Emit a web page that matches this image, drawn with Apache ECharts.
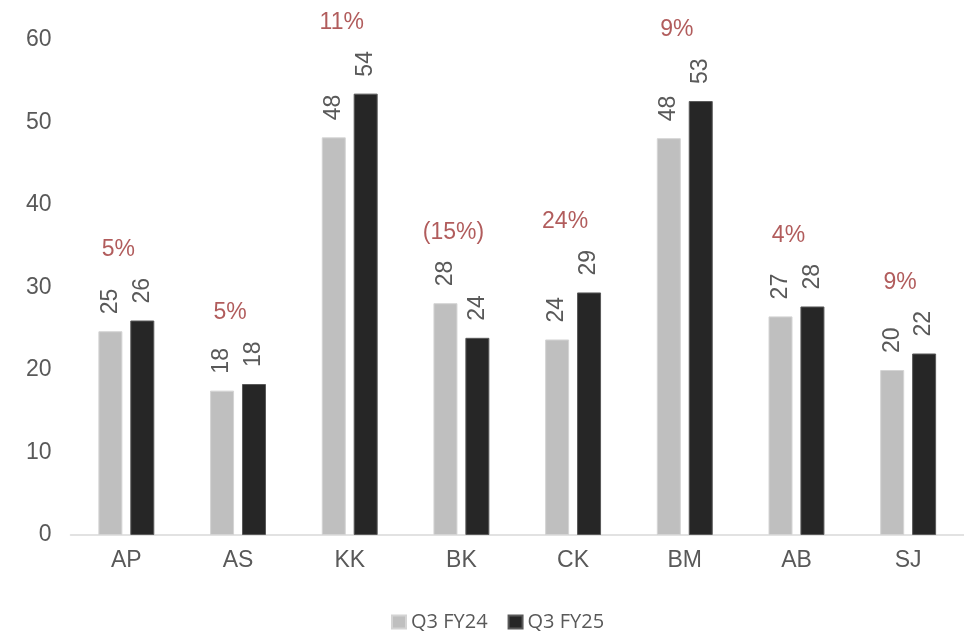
<!DOCTYPE html>
<html>
<head>
<meta charset="utf-8">
<script src="https://cdn.jsdelivr.net/npm/echarts@6/dist/echarts.min.js"></script>
<style>
html,body{margin:0;padding:0;background:#fff;}
#chart{width:964px;height:632px;}
</style>
</head>
<body>
<div id="chart"></div>
<script>
var categories = ['AP', 'AS', 'KK', 'BK', 'CK', 'BM', 'AB', 'SJ'];
var seriesNames = ['Q3 FY24', 'Q3 FY25'];
var q3fy24 = [24.7, 17.5, 48.2, 28.1, 23.7, 48.1, 26.5, 20.0];
var q3fy25 = [26.0, 18.3, 53.5, 23.9, 29.4, 52.6, 27.7, 22.0];
var growthLabels = ['5%', '5%', '11%', '(15%)', '24%', '9%', '4%', '9%'];
var yTicks = [0, 10, 20, 30, 40, 50, 60];

var FONT = '"Liberation Sans", Arial, sans-serif';
var maxVals = categories.map(function (c, i) { return Math.max(q3fy24[i], q3fy25[i]); });

var chart = echarts.init(document.getElementById('chart'), null, { renderer: 'canvas' });

var dataLabel = {
  show: true,
  position: 'top',
  rotate: 90,
  align: 'left',
  verticalAlign: 'middle',
  distance: 17,
  color: '#595959',
  fontFamily: FONT,
  fontSize: 23,
  formatter: function (p) { return Math.round(p.value); }
};

chart.setOption({
  animation: false,
  backgroundColor: '#ffffff',
  grid: { left: 70.5, top: 40, width: 896, height: 495, containLabel: false },
  legend: {
    data: seriesNames,
    left: 386,
    top: 607,
    itemWidth: 14,
    itemHeight: 13,
    itemGap: 20,
    icon: 'rect',
    textStyle: { fontFamily: '"Open Sans", sans-serif', fontSize: 20, color: '#595959' }
  },
  xAxis: {
    type: 'category',
    data: categories,
    axisLine: { show: true, lineStyle: { color: '#D9D9D9', width: 1.5 } },
    axisTick: { show: false },
    axisLabel: { color: '#595959', fontFamily: FONT, fontSize: 23, margin: 14 }
  },
  yAxis: {
    type: 'value',
    min: yTicks[0],
    max: yTicks[yTicks.length - 1],
    interval: yTicks[1] - yTicks[0],
    splitLine: { show: false },
    axisLine: { show: false },
    axisTick: { show: false },
    axisLabel: { color: '#595959', fontFamily: FONT, fontSize: 23, margin: 19 }
  },
  series: [
    {
      name: seriesNames[0],
      type: 'bar',
      data: q3fy24,
      barWidth: 24,
      barGap: '33%',
      itemStyle: { color: '#BFBFBF', borderColor: '#D4D4D4', borderWidth: 1 },
      label: dataLabel
    },
    {
      name: seriesNames[1],
      type: 'bar',
      data: q3fy25,
      barWidth: 24,
      itemStyle: { color: '#262626', borderColor: '#595959', borderWidth: 1 },
      label: dataLabel
    },
    {
      name: 'growth',
      type: 'scatter',
      data: maxVals,
      symbolSize: 0,
      silent: true,
      label: {
        show: true,
        position: 'inside',
        offset: [-8, -71],
        color: '#9E3333',
        fontFamily: FONT,
        fontSize: 23,
        formatter: function (p) { return growthLabels[p.dataIndex]; }
      }
    }
  ]
});
</script>
</body>
</html>
